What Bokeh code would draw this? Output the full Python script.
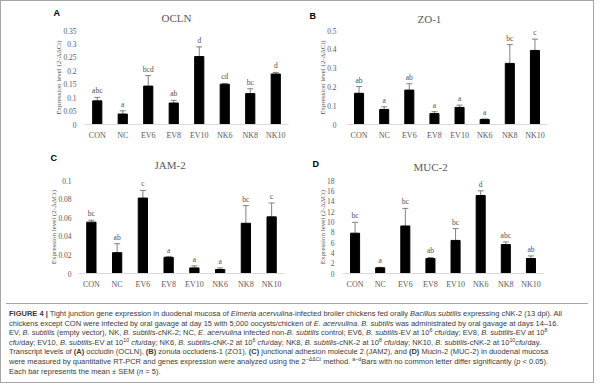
from bokeh.plotting import figure
from bokeh.models import (ColumnDataSource, Whisker, TeeHead, Div, Title,
                          FactorRange, Range1d, FixedTicker, NumeralTickFormatter)
from bokeh.layouts import column, row
from bokeh.embed import file_html
from bokeh.resources import INLINE
from bokeh.core.properties import value

# ---------------- data ----------------
groups = ["CON", "NC", "EV6", "EV8", "EV10", "NK6", "NK8", "NK10"]

ocln_mean = [0.088, 0.039, 0.143, 0.080, 0.253, 0.150, 0.115, 0.188]
ocln_sem = [0.013, 0.012, 0.039, 0.010, 0.036, 0.003, 0.018, 0.006]
ocln_letters = ["abc", "a", "bcd", "ab", "d", "cd", "bc", "d"]
ocln_ticks = [0, 0.05, 0.1, 0.15, 0.2, 0.25, 0.3, 0.35]

zo1_mean = [0.166, 0.080, 0.183, 0.058, 0.091, 0.027, 0.325, 0.394]
zo1_sem = [0.036, 0.014, 0.034, 0.010, 0.012, 0.002, 0.100, 0.060]
zo1_letters = ["ab", "a", "ab", "a", "a", "a", "bc", "c"]
zo1_ticks = [0, 0.1, 0.2, 0.3, 0.4, 0.5]

jam2_mean = [0.0552, 0.0224, 0.0811, 0.0174, 0.0060, 0.0043, 0.0540, 0.0609]
jam2_sem = [0.0021, 0.0096, 0.0082, 0.0007, 0.0022, 0.0017, 0.0190, 0.0149]
jam2_letters = ["bc", "ab", "c", "a", "a", "a", "bc", "c"]
jam2_ticks = [0, 0.02, 0.04, 0.06, 0.08, 0.1]

muc2_mean = [7.8, 1.1, 9.2, 2.9, 6.4, 15.1, 5.6, 2.9]
muc2_sem = [2.1, 0.1, 3.4, 0.2, 2.3, 0.9, 0.5, 0.5]
muc2_letters = ["bc", "a", "bc", "ab", "bc", "d", "abc", "ab"]
muc2_ticks = [0, 2, 4, 6, 8, 10, 12, 14, 16, 18]

y_label = "Expression level (2-\u0394\u0394Ct)"
SERIF = "Liberation Serif"
GREY = "#595959"


def panel(letter, title, mean, sem, letters, ticks, fmt,
          w, h, left, top, frame_w, frame_h,
          title_offset, title_standoff, letter_offset, letter_standoff,
          tick_standoff):
    src = ColumnDataSource(dict(
        groups=groups, mean=mean, sem=sem, letters=letters,
        top=[m + s for m, s in zip(mean, sem)]))
    right = w - left - frame_w
    bottom = h - top - frame_h
    ymin, ymax = ticks[0], ticks[-1]
    p = figure(x_range=FactorRange(factors=groups),
               y_range=Range1d(ymin, ymax), title=None,
               width=w, height=h, output_backend="svg", toolbar_location=None,
               min_border_left=left, min_border_right=right,
               min_border_top=top, min_border_bottom=bottom,
               outline_line_color=None, background_fill_color="white",
               border_fill_color="white")
    p.vbar(x="groups", top="mean", width=0.36, source=src,
           fill_color="black", line_color="black")
    p.add_layout(Whisker(source=src, base="groups", upper="top", lower="mean",
                         line_color="#808080", line_width=1,
                         upper_head=TeeHead(size=6, line_color="#808080"),
                         lower_head=None))
    p.text(x="groups", y="top", text="letters", source=src,
           text_align="center", text_baseline="bottom", y_offset=-2,
           text_font=value(SERIF), text_font_size="7.5px", text_color="#505050")

    p.xgrid.grid_line_color = None
    p.ygrid.grid_line_color = None

    ya = p.yaxis[0]
    ya.ticker = FixedTicker(ticks=ticks)
    ya.formatter = NumeralTickFormatter(format=fmt)
    ya.axis_line_color = None
    ya.major_tick_line_color = None
    ya.major_tick_out = 0
    ya.major_tick_in = 0
    ya.minor_tick_line_color = None
    ya.major_label_text_font = SERIF
    ya.major_label_text_font_size = "7.5px"
    ya.major_label_text_color = GREY
    ya.major_label_standoff = tick_standoff
    ya.axis_label = y_label
    ya.axis_label_text_font = SERIF
    ya.axis_label_text_font_size = "7px"
    ya.axis_label_text_font_style = "normal"
    ya.axis_label_text_color = GREY
    ya.axis_label_standoff = -3

    xa = p.xaxis[0]
    xa.axis_line_color = "#d9d9d9"
    xa.major_tick_line_color = None
    xa.major_tick_out = 0
    xa.major_tick_in = 0
    xa.minor_tick_line_color = None
    xa.major_label_text_font = SERIF
    xa.major_label_text_font_size = "8px"
    xa.major_label_text_color = GREY
    xa.major_label_standoff = 6

    p.add_layout(Title(text=title, align="left", offset=title_offset,
                       standoff=title_standoff, text_font=SERIF,
                       text_font_size="11px", text_font_style="normal",
                       text_color=GREY), "above")
    p.add_layout(Title(text=letter, align="left", offset=letter_offset,
                       standoff=letter_standoff, text_font="Liberation Sans",
                       text_font_size="9px", text_font_style="bold",
                       text_color="black"), "above")
    return p


pA = panel("A", "OCLN", ocln_mean, ocln_sem, ocln_letters, ocln_ticks, "0.[00]",
           297, 145, 83, 29, 204, 94, 77, 14, -31, -30, 8)
pB = panel("B", "ZO-1", zo1_mean, zo1_sem, zo1_letters, zo1_ticks, "0.[0]",
           285, 145, 48, 26, 201, 97, 71, 11, -37, -30, 10)
pC = panel("C", "JAM-2", jam2_mean, jam2_sem, jam2_letters, jam2_ticks, "0.[00]",
           297, 152, 77, 34, 206, 94, 76, 19, -28, -30, 7)
pD = panel("D", "MUC-2", muc2_mean, muc2_sem, muc2_letters, muc2_ticks, "0",
           285, 152, 44, 31, 201, 96, 71, 16, -30, -36, 8)

SUP = "<sup style='line-height:0;font-size:70%'>"
caption_lines = [
    "<b>FIGURE 4 |</b> Tight junction gene expression in duodenal mucosa of <i>Eimeria acervulina</i>-infected broiler chickens fed orally <i>Bacillus subtilis</i> expressing cNK-2 (13 dpi). All",
    "chickens except CON were infected by oral gavage at day 15 with 5,000 oocysts/chicken of <i>E. acervulina</i>. <i>B. subtilis</i> was administrated by oral gavage at days 14\u201316.",
    "EV, <i>B. subtilis</i> (empty vector), NK, <i>B. subtilis</i>-cNK-2; NC, <i>E. acervulina</i> infected non-<i>B. subtilis</i> control; EV6, <i>B. subtilis</i>-EV at 10<sup>6</sup> <i>cfu</i>/day; EV8, <i>B. subtilis</i>-EV at 10<sup>8</sup>",
    "<i>cfu</i>/day; EV10, <i>B. subtilis</i>-EV at 10<sup>10</sup> <i>cfu</i>/day; NK6, <i>B. subtilis</i>-cNK-2 at 10<sup>6</sup> <i>cfu</i>/day; NK8, <i>B. subtilis</i>-cNK-2 at 10<sup>8</sup> <i>cfu</i>/day; NK10, <i>B. subtilis</i>-cNK-2 at 10<sup>10</sup><i>cfu</i>/day.",
    "Transcript levels of <b>(A)</b> occludin (OCLN), <b>(B)</b> zonula occludens-1 (ZO1), <b>(C)</b> junctional adhesion molecule 2 (JAM2), and <b>(D)</b> Mucin-2 (MUC-2) in duodenal mucosa",
    "were measured by quantitative RT-PCR and genes expression were analyzed using the 2<sup>\u2212\u0394\u0394Ct</sup> method. <sup>a\u2212d</sup>Bars with no common letter differ significantly (<i>p</i> &lt; 0.05).",
    "Each bar represents the mean \u00b1 SEM (<i>n</i> = 5).",
]
html = ("<div style='font-family:\"Liberation Sans\";font-size:7.5px;line-height:9.6px;"
        "color:#3a3a3a;white-space:nowrap;padding:5px 0 0 3px;'>"
        + "<br>".join(caption_lines).replace("<sup>", SUP) + "</div>")
caption = Div(text=html, width=582, height=74,
              styles={"border-top": "1px solid #a6a6a6", "background": "white",
                      "overflow": "hidden"})

layout = column(row(pA, pB), row(pC, pD), caption,
                styles={"border": "1px solid #a6a6a6", "background": "white"})

open("out.html", "w").write(file_html(layout, INLINE))
